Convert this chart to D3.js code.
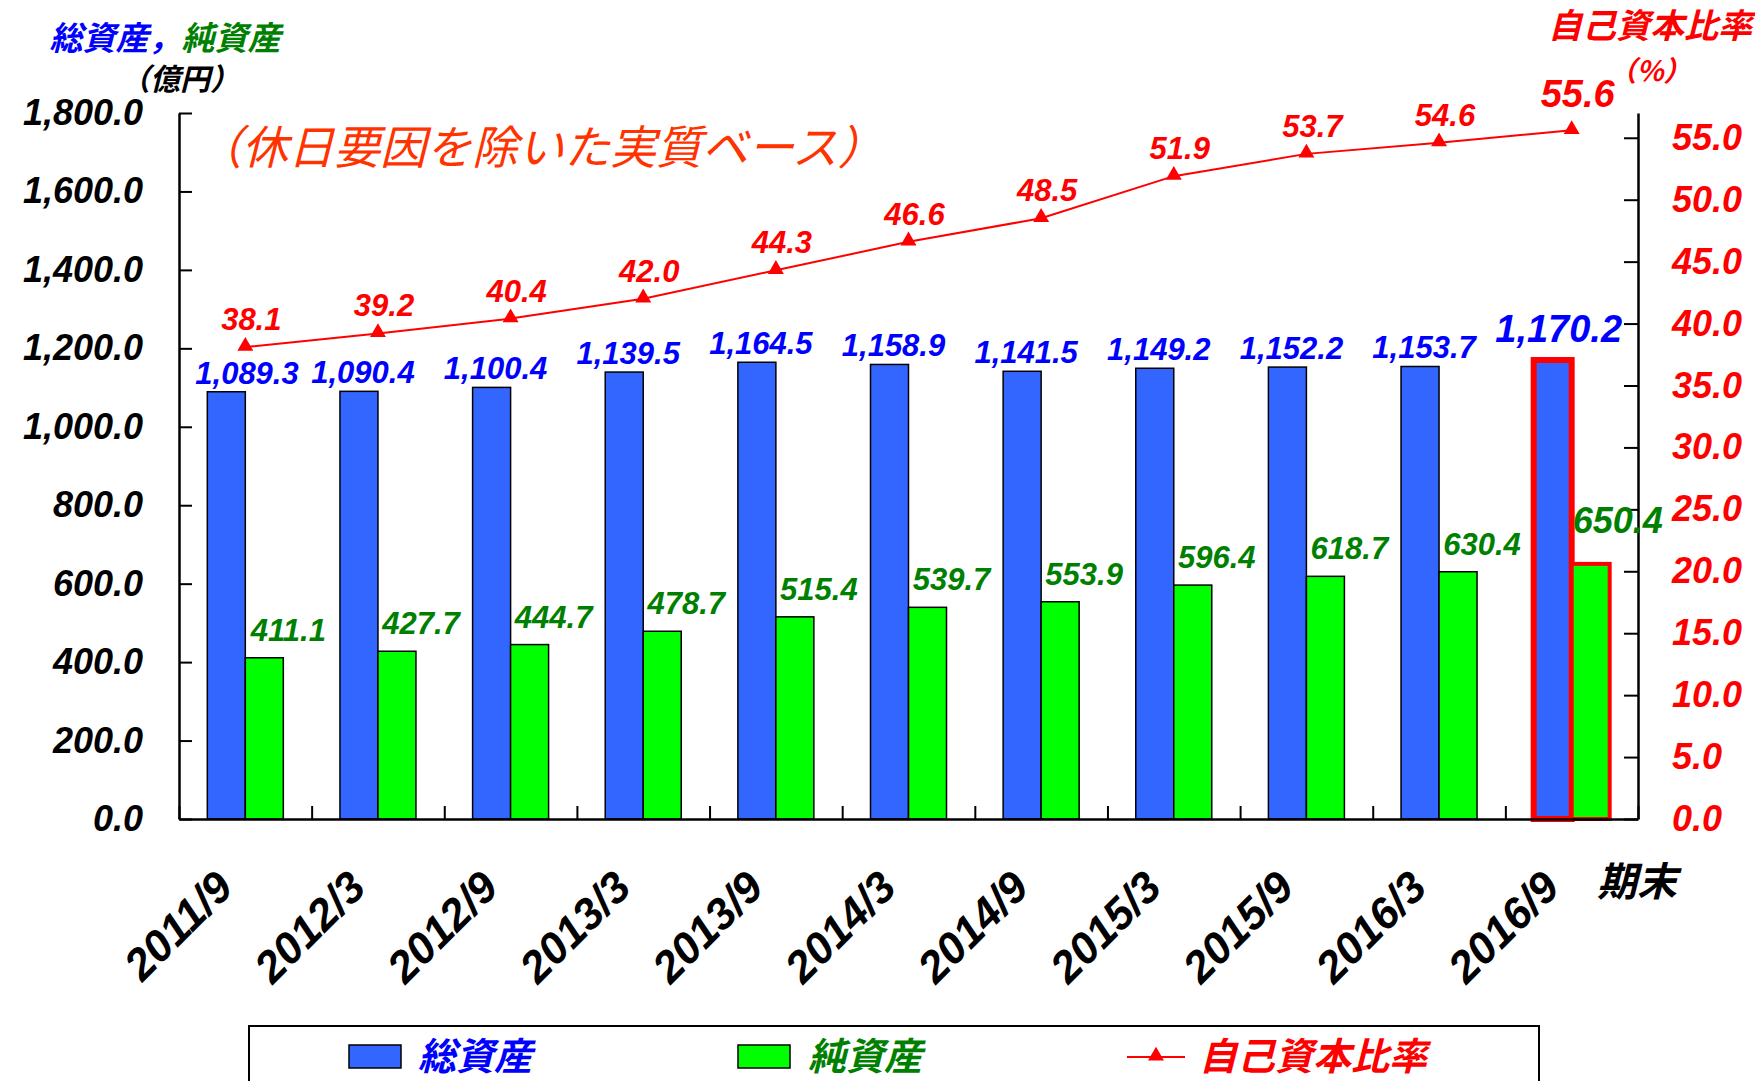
<!DOCTYPE html>
<html>
<head>
<meta charset="utf-8">
<script src="https://cdn.jsdelivr.net/npm/d3@7"></script>
<style>
  body { margin: 0; background: #fff; }
  text { font-family: "Liberation Sans", "Noto Sans CJK JP", sans-serif; font-weight: bold; font-style: italic; }
  .jp { font-family: "Noto Sans CJK JP", sans-serif; }
  .xlab { font-family: "Liberation Sans Narrow", "Liberation Sans", sans-serif; }
</style>
</head>
<body>
<div id="chart"></div>
<script>
// data
var periods = ["2011/9", "2012/3", "2012/9", "2013/3", "2013/9", "2014/3", "2014/9", "2015/3", "2015/9", "2016/3", "2016/9"];
var totalAssets = [1089.3, 1090.4, 1100.4, 1139.5, 1164.5, 1158.9, 1141.5, 1149.2, 1152.2, 1153.7, 1170.2];
var netAssets = [411.1, 427.7, 444.7, 478.7, 515.4, 539.7, 553.9, 596.4, 618.7, 630.4, 650.4];
var equityRatio = [38.1, 39.2, 40.4, 42.0, 44.3, 46.6, 48.5, 51.9, 53.7, 54.6, 55.6];
var leftTicks = [0, 200, 400, 600, 800, 1000, 1200, 1400, 1600, 1800];
var rightTicks = [0, 5, 10, 15, 20, 25, 30, 35, 40, 45, 50, 55];

var svgWidth = 1755;
var svgHeight = 1081;

// plot area
var plot = { left: 179, right: 1638, top: 113, bottom: 819 };

var svg = d3.select("#chart").append("svg").attr("width", svgWidth).attr("height", svgHeight);

var x = d3.scaleBand().domain(periods).range([plot.left, plot.right]);
var xEdge = d3.scaleLinear().domain([0, periods.length]).range([plot.left, plot.right]);
var y = d3.scaleLinear().domain([0, 1800]).range([plot.bottom, plot.top]);
var y2 = d3.scaleLinear().domain([0, 57]).range([plot.bottom, plot.top]);

var barW = 38;
var blue = "#3366FF", green = "#00FF00";
var fmt = d3.format(",.1f");
var last = periods.length - 1;

// bars
svg.append("g").selectAll("rect").data(totalAssets).enter().append("rect")
  .attr("x", (d, i) => x(periods[i]) + x.bandwidth() / 2 - barW)
  .attr("y", d => y(d))
  .attr("width", barW)
  .attr("height", d => plot.bottom - y(d))
  .attr("fill", blue)
  .attr("stroke", (d, i) => i == last ? "#FF0000" : "#000")
  .attr("stroke-width", (d, i) => i == last ? 6 : 1.5);

svg.append("g").selectAll("rect").data(netAssets).enter().append("rect")
  .attr("x", (d, i) => x(periods[i]) + x.bandwidth() / 2)
  .attr("y", d => y(d))
  .attr("width", barW)
  .attr("height", d => plot.bottom - y(d))
  .attr("fill", green)
  .attr("stroke", (d, i) => i == last ? "#FF0000" : "#000")
  .attr("stroke-width", (d, i) => i == last ? 4 : 1.5);

// axes
var leftAxis = svg.append("g").attr("transform", `translate(${plot.left},0)`)
  .call(d3.axisLeft(y).tickValues(leftTicks).tickFormat(d3.format(",.1f")).tickSizeInner(-13).tickSizeOuter(0).tickPadding(36));
leftAxis.selectAll("text").attr("font-size", 36).attr("fill", "#000");

var rightAxis = svg.append("g").attr("transform", `translate(${plot.right},0)`)
  .call(d3.axisRight(y2).tickValues(rightTicks).tickFormat(d3.format(".1f")).tickSizeInner(-14).tickSizeOuter(0).tickPadding(34));
rightAxis.selectAll("text").attr("font-size", 36).attr("fill", "#FF0000");

var bottomAxis = svg.append("g").attr("transform", `translate(0,${plot.bottom})`)
  .call(d3.axisBottom(xEdge).ticks(periods.length).tickFormat("").tickSizeInner(-13).tickSizeOuter(0));

svg.selectAll(".domain").attr("stroke", "#000").attr("stroke-width", 2.5);
svg.selectAll(".tick line").attr("stroke", "#000").attr("stroke-width", 2);

// x labels
svg.append("g").selectAll("text").data(periods).enter().append("text")
  .attr("class", "xlab")
  .attr("transform", d => `translate(${x(d) + x.bandwidth() / 2 - 10},890) rotate(-45)`)
  .attr("text-anchor", "end")
  .attr("font-size", 44)
  .attr("fill", "#000")
  .text(d => d);

// equity ratio line
var line = d3.line().x((d, i) => x(periods[i]) + x.bandwidth() / 2).y(d => y2(d));
svg.append("path").datum(equityRatio).attr("d", line)
  .attr("fill", "none").attr("stroke", "#FF0000").attr("stroke-width", 2);

svg.append("g").selectAll("path").data(equityRatio).enter().append("path")
  .attr("transform", (d, i) => `translate(${x(periods[i]) + x.bandwidth() / 2},${y2(d) - 1})`)
  .attr("d", d3.symbol().type(d3.symbolTriangle).size(110))
  .attr("fill", "#FF0000");

// value labels
svg.append("g").selectAll("text").data(equityRatio).enter().append("text")
  .attr("x", (d, i) => x(periods[i]) + x.bandwidth() / 2 + 6)
  .attr("y", (d, i) => y2(d) - (i == last ? 23 : 17))
  .attr("text-anchor", "middle")
  .attr("font-size", (d, i) => i == last ? 38 : 31)
  .attr("fill", "#FF0000")
  .text(d => d.toFixed(1));

svg.append("g").selectAll("text").data(totalAssets).enter().append("text")
  .attr("x", (d, i) => {
    var cx = x(periods[i]) + x.bandwidth() / 2 - barW / 2 + (i == last ? 6 : 4);
    return Math.max(cx, 247);
  })
  .attr("y", (d, i) => y(d) - (i == last ? 18 : 8))
  .attr("text-anchor", "middle")
  .attr("font-size", (d, i) => i == last ? 38 : 31)
  .attr("fill", "#0000FF")
  .text(d => fmt(d));

svg.append("g").selectAll("text").data(netAssets).enter().append("text")
  .attr("x", (d, i) => x(periods[i]) + x.bandwidth() / 2 + barW / 2 + (i == last ? 27 : 24))
  .attr("y", (d, i) => y(d) - (i == last ? 31 : 17))
  .attr("text-anchor", "middle")
  .attr("font-size", (d, i) => i == last ? 36 : 31)
  .attr("fill", "#008000")
  .text(d => d.toFixed(1));

// axis titles
var t1 = svg.append("text").attr("class", "jp").attr("x", 165).attr("y", 50).attr("text-anchor", "middle").attr("font-size", 33);
t1.append("tspan").attr("fill", "#0000FF").text("総資産，");
t1.append("tspan").attr("fill", "#008000").text("純資産");
svg.append("text").attr("class", "jp").attr("x", 180).attr("y", 90).attr("text-anchor", "middle")
  .attr("font-size", 30).attr("fill", "#000").text("（億円）");

svg.append("text").attr("class", "jp").attr("x", 1650).attr("y", 38).attr("text-anchor", "middle")
  .attr("font-size", 34).attr("fill", "#FF0000").text("自己資本比率");
svg.append("text").attr("class", "jp").attr("x", 1650).attr("y", 81).attr("text-anchor", "middle")
  .attr("font-size", 28).attr("fill", "#FF0000").text("（%）");

svg.append("text").attr("class", "jp").attr("x", 1597).attr("y", 896)
  .attr("font-size", 40).attr("fill", "#000").text("期末");

svg.append("text").attr("class", "jp").attr("x", 196).attr("y", 164)
  .attr("font-size", 46).style("font-weight", "normal").attr("fill", "#FF3300")
  .text("（休日要因を除いた実質ベース）");

// legend
var legend = svg.append("g");
legend.append("rect").attr("x", 249).attr("y", 1026).attr("width", 1290).attr("height", 90)
  .attr("fill", "#fff").attr("stroke", "#000").attr("stroke-width", 2);

legend.append("rect").attr("x", 349).attr("y", 1045).attr("width", 52).attr("height", 23)
  .attr("fill", blue).attr("stroke", "#000").attr("stroke-width", 1.5);
legend.append("text").attr("class", "jp").attr("x", 418).attr("y", 1070).attr("font-size", 38)
  .attr("fill", "#0000FF").text("総資産");

legend.append("rect").attr("x", 738).attr("y", 1045).attr("width", 52).attr("height", 23)
  .attr("fill", green).attr("stroke", "#000").attr("stroke-width", 1.5);
legend.append("text").attr("class", "jp").attr("x", 808).attr("y", 1070).attr("font-size", 38)
  .attr("fill", "#008000").text("純資産");

legend.append("line").attr("x1", 1127).attr("x2", 1185).attr("y1", 1057).attr("y2", 1057)
  .attr("stroke", "#FF0000").attr("stroke-width", 2);
legend.append("path").attr("transform", "translate(1156,1056)")
  .attr("d", d3.symbol().type(d3.symbolTriangle).size(110)).attr("fill", "#FF0000");
legend.append("text").attr("class", "jp").attr("x", 1199).attr("y", 1070).attr("font-size", 38)
  .attr("fill", "#FF0000").text("自己資本比率");
</script>
</body>
</html>
